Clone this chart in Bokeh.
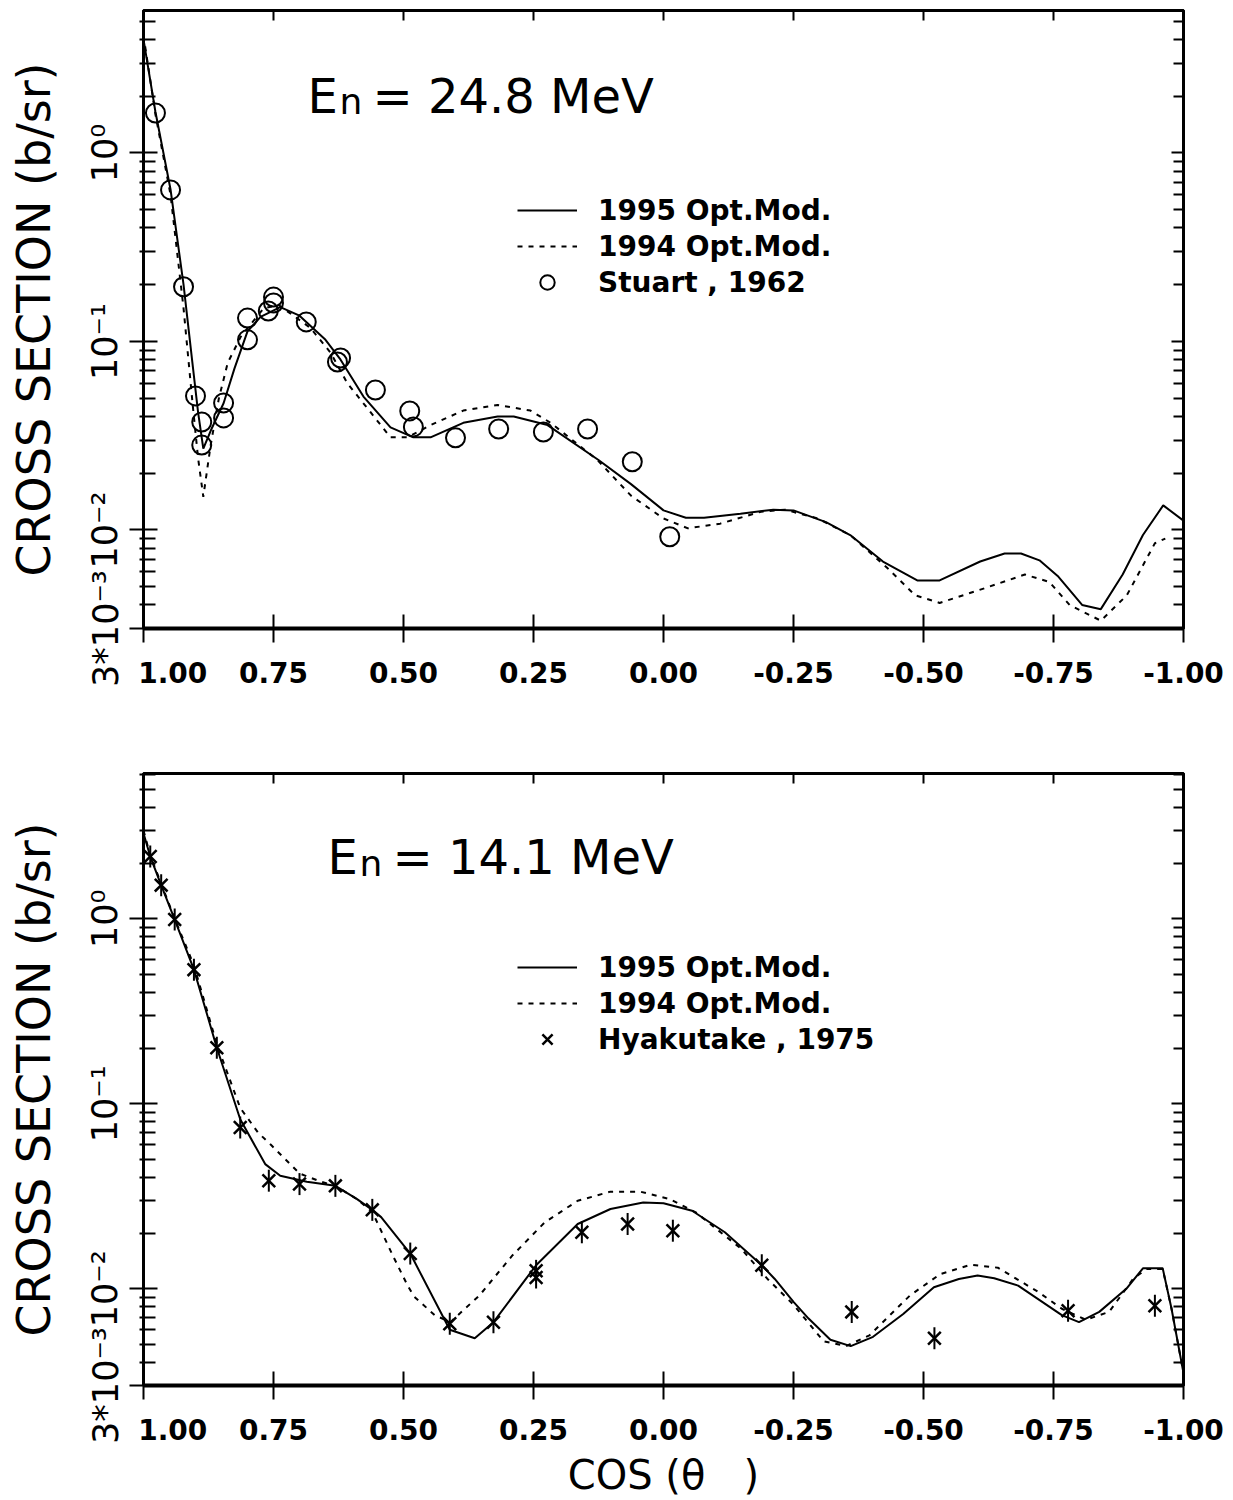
import math
from bokeh.plotting import figure
from bokeh.models import (Range1d, FixedTicker, LinearAxis, LogAxis, Legend,
                          LegendItem, Label, CustomJSTickFormatter)
from bokeh.layouts import column
from bokeh.embed import file_html
from bokeh.resources import INLINE

FONT = "DejaVu Sans"

# ---------------- data: top panel (En = 24.8 MeV) ----------------
TOP_C95 = [1.000, 0.977, 0.948, 0.923, 0.905, 0.895, 0.885, 0.870, 0.846, 0.825, 0.800, 0.775,
           0.737, 0.700, 0.650, 0.621, 0.577, 0.525, 0.481, 0.448, 0.385, 0.319, 0.288, 0.223,
           0.125, 0.0625, 0.000, -0.043, -0.078, -0.148, -0.211, -0.250, -0.3125, -0.359,
           -0.422, -0.488, -0.531, -0.609, -0.656, -0.6875, -0.723, -0.758, -0.805, -0.841,
           -0.883, -0.922, -0.961, -1.000]
TOP_V95 = [4.0, 1.65, 0.64, 0.20, 0.073, 0.042, 0.027, 0.034, 0.047, 0.072, 0.113, 0.135,
           0.152, 0.137, 0.102, 0.080, 0.051, 0.035, 0.031, 0.031, 0.037, 0.040, 0.040, 0.036,
           0.0235, 0.0175, 0.0127, 0.0116, 0.0116, 0.0122, 0.0128, 0.0127, 0.0110, 0.0094,
           0.0068, 0.0054, 0.0054, 0.0068, 0.0075, 0.0075, 0.0069, 0.0057, 0.0040, 0.0038,
           0.0058, 0.0094, 0.0135, 0.0112]

TOP_C94 = [1.000, 0.977, 0.948, 0.923, 0.905, 0.895, 0.885, 0.871, 0.855, 0.838, 0.813, 0.769,
           0.740, 0.679, 0.640, 0.608, 0.563, 0.525, 0.492, 0.448, 0.385, 0.319, 0.256, 0.217,
           0.127, 0.0625, 0.000, -0.047, -0.109, -0.1875, -0.234, -0.297, -0.359, -0.430,
           -0.484, -0.531, -0.617, -0.695, -0.742, -0.781, -0.841, -0.891, -0.945, -0.965]
TOP_V94 = [4.2, 1.6, 0.60, 0.15, 0.045, 0.024, 0.015, 0.028, 0.050, 0.077, 0.106, 0.150,
           0.156, 0.118, 0.087, 0.060, 0.042, 0.031, 0.031, 0.036, 0.043, 0.046, 0.043, 0.037,
           0.0235, 0.0152, 0.0115, 0.0102, 0.0108, 0.0125, 0.0128, 0.0115, 0.0094, 0.0063,
           0.0045, 0.0041, 0.0049, 0.0058, 0.0053, 0.0040, 0.0033, 0.0045, 0.0085, 0.0090]

STUART_C = [0.977, 0.948, 0.923, 0.900, 0.888, 0.888, 0.846, 0.846, 0.800, 0.800, 0.760, 0.750,
            0.750, 0.687, 0.627, 0.621, 0.554, 0.488, 0.481, 0.400, 0.317, 0.231, 0.146, 0.060,
            -0.012]
STUART_V = [1.63, 0.637, 0.195, 0.0514, 0.0374, 0.0282, 0.0472, 0.0393, 0.133, 0.102, 0.145,
            0.172, 0.160, 0.127, 0.0778, 0.0817, 0.0553, 0.0428, 0.0352, 0.0308, 0.0343, 0.0331,
            0.0343, 0.0230, 0.0092]

# ---------------- data: bottom panel (En = 14.1 MeV) ----------------
BOT_C95 = [1.000, 0.987, 0.966, 0.940, 0.903, 0.859, 0.814, 0.766, 0.737, 0.686, 0.631, 0.590,
           0.560, 0.543, 0.487, 0.411, 0.363, 0.327, 0.245, 0.165, 0.102, 0.039, 0.000, -0.055,
           -0.118, -0.189, -0.214, -0.250, -0.279, -0.321, -0.360, -0.403, -0.461, -0.520,
           -0.568, -0.604, -0.636, -0.682, -0.766, -0.799, -0.838, -0.890, -0.922, -0.960,
           -0.977, -1.000]
BOT_V95 = [2.9, 2.17, 1.52, 0.99, 0.531, 0.201, 0.0825, 0.0472, 0.0408, 0.0379, 0.0360, 0.0306,
           0.0267, 0.0244, 0.0155, 0.0060, 0.0054, 0.0066, 0.0134, 0.0224, 0.0270, 0.0293,
           0.0290, 0.0264, 0.0202, 0.0134, 0.0113, 0.0085, 0.0069, 0.0053, 0.0049, 0.0055,
           0.0073, 0.0102, 0.0113, 0.0118, 0.0114, 0.0104, 0.0072, 0.0066, 0.0075, 0.0100,
           0.0129, 0.0129, 0.0078, 0.0035]

BOT_C94 = [1.000, 0.987, 0.966, 0.940, 0.903, 0.859, 0.814, 0.780, 0.755, 0.700, 0.660, 0.631,
           0.590, 0.560, 0.520, 0.492, 0.480, 0.440, 0.410, 0.354, 0.291, 0.228, 0.165, 0.102,
           0.045, -0.011, -0.062, -0.150, -0.200, -0.250, -0.308, -0.351, -0.396, -0.474,
           -0.532, -0.591, -0.643, -0.721, -0.766, -0.812, -0.857, -0.903, -0.929, -0.960,
           -0.977, -1.000]
BOT_V94 = [3.0, 2.2, 1.55, 1.0, 0.56, 0.21, 0.095, 0.070, 0.060, 0.042, 0.038, 0.036,
           0.0306, 0.026, 0.015, 0.0104, 0.0091, 0.0072, 0.0066, 0.0092, 0.0151, 0.0229,
           0.0299, 0.0335, 0.0335, 0.0306, 0.0259, 0.0164, 0.0113, 0.0082, 0.0052, 0.0049,
           0.0056, 0.0092, 0.0120, 0.0135, 0.0130, 0.0096, 0.0078, 0.0068, 0.0075, 0.0113,
           0.0128, 0.0128, 0.0078, 0.0035]

HYAK_C = [0.987, 0.966, 0.940, 0.903, 0.859, 0.814, 0.759, 0.700, 0.631, 0.560, 0.487, 0.411,
          0.327, 0.245, 0.245, 0.157, 0.069, -0.018, -0.189, -0.362, -0.521, -0.778, -0.945]
HYAK_V = [2.17, 1.52, 0.99, 0.531, 0.201, 0.0744, 0.0384, 0.0368, 0.0360, 0.0267, 0.0155,
          0.00647, 0.0066, 0.0125, 0.0115, 0.0202, 0.0224, 0.0206, 0.0134, 0.0075, 0.0054,
          0.0076, 0.0081]

# ---------------- ticks ----------------
X_TICKS = [1.0, 0.75, 0.5, 0.25, 0.0, -0.25, -0.5, -0.75, -1.0]
X_TICK_LABELS = ["1.00", "0.75", "0.50", "0.25", "0.00", "-0.25", "-0.50", "-0.75", "-1.00"]
Y_TICKS = [0.003, 0.01, 0.1, 1.0]
Y_TICK_LABELS = ["3*10\u207b\u00b3", "10\u207b\u00b2", "10\u207b\u00b9", "10\u2070"]
Y_MINOR = [0.004, 0.005, 0.006, 0.007, 0.008, 0.009,
           0.02, 0.03, 0.04, 0.05, 0.06, 0.07, 0.08, 0.09,
           0.2, 0.3, 0.4, 0.5, 0.6, 0.7, 0.8, 0.9,
           2.0, 3.0, 4.0, 5.0, 6.0]

Y_LOW = 0.003
FRAME_L, FRAME_R = 143, 1183
NBSP = "\u00a0"


def to_data(px, py, top_px, bot_px, ymax):
    c = 1.0 - 2.0 * (px - FRAME_L) / (FRAME_R - FRAME_L)
    frac = (bot_px - py) / (bot_px - top_px)
    lv = math.log10(Y_LOW) + frac * (math.log10(ymax) - math.log10(Y_LOW))
    return c, 10 ** lv


def make_panel(height, b_top, b_bottom, ymax):
    p = figure(width=1233, height=height, x_range=Range1d(1.0, -1.0),
               y_range=Range1d(Y_LOW, ymax), y_axis_type="log",
               output_backend="svg", toolbar_location=None,
               min_border_left=FRAME_L, min_border_right=1233 - FRAME_R,
               min_border_top=b_top, min_border_bottom=b_bottom)
    p.grid.visible = False
    p.background_fill_color = "white"
    p.border_fill_color = "white"
    p.outline_line_color = "black"
    p.outline_line_width = 3

    xa = p.xaxis[0]
    xa.ticker = FixedTicker(ticks=X_TICKS, minor_ticks=[])
    labels = {t: s for t, s in zip(X_TICKS, X_TICK_LABELS)}
    # the first label sits to the right of its tick, clear of the corner
    labels[X_TICKS[0]] = NBSP * 6 + X_TICK_LABELS[0]
    xa.major_label_overrides = labels
    xa.axis_line_width = 4
    xa.major_tick_line_width = 2
    xa.major_tick_in = 14
    xa.major_tick_out = 14
    xa.major_label_standoff = 14
    xa.major_label_text_font = FONT
    xa.major_label_text_font_size = "28px"
    xa.major_label_text_font_style = "bold"
    xa.major_label_text_color = "black"

    ya = p.yaxis[0]
    ya.ticker = FixedTicker(ticks=Y_TICKS, minor_ticks=Y_MINOR)
    ya.major_label_overrides = {t: s for t, s in zip(Y_TICKS, Y_TICK_LABELS)}
    ya.axis_line_width = 3
    ya.major_tick_line_width = 2
    ya.minor_tick_line_width = 2
    ya.major_tick_in = 14
    ya.major_tick_out = 14
    ya.minor_tick_in = 12
    ya.minor_tick_out = 4
    ya.major_label_orientation = "vertical"
    ya.major_label_standoff = 4
    ya.major_label_text_font = FONT
    ya.major_label_text_font_size = "35px"
    ya.major_label_text_color = "black"
    ya.axis_label = "CROSS SECTION (b/sr)"
    ya.axis_label_text_font = FONT
    ya.axis_label_text_font_size = "46px"
    ya.axis_label_text_font_style = "normal"
    ya.axis_label_text_color = "black"
    ya.axis_label_standoff = 22

    blank = CustomJSTickFormatter(code="return ''")
    ra = LogAxis(ticker=FixedTicker(ticks=Y_TICKS, minor_ticks=Y_MINOR), formatter=blank,
                 axis_line_width=3, major_tick_line_width=2, minor_tick_line_width=2,
                 major_tick_in=12, major_tick_out=0, minor_tick_in=10, minor_tick_out=0,
                 major_label_standoff=0, major_label_text_font_size="0px")
    p.add_layout(ra, "right")
    ta = LinearAxis(ticker=FixedTicker(ticks=X_TICKS[1:-1], minor_ticks=[]), formatter=blank,
                    axis_line_width=3, major_tick_line_width=2,
                    major_tick_in=10, major_tick_out=0,
                    major_label_standoff=0, major_label_text_font_size="0px")
    p.add_layout(ta, "above")
    return p, xa


def add_title(p, energy, ex, baseline, top_px, bot_px, ymax):
    c, v = to_data(ex, baseline, top_px, bot_px, ymax)
    p.add_layout(Label(x=c, y=v, text="E", text_font=FONT, text_font_size="48px",
                       text_baseline="alphabetic", text_align="left", text_color="black"))
    c, v = to_data(ex + 32, baseline + 6, top_px, bot_px, ymax)
    p.add_layout(Label(x=c, y=v, text="n", text_font=FONT, text_font_size="36px",
                       text_baseline="alphabetic", text_align="left", text_color="black"))
    c, v = to_data(ex + 65, baseline, top_px, bot_px, ymax)
    p.add_layout(Label(x=c, y=v, text="= " + energy + " MeV", text_font=FONT,
                       text_font_size="48px", text_baseline="alphabetic", text_align="left",
                       text_color="black"))


def add_legend(p, items):
    lg = Legend(items=items, location=(374, 328), orientation="vertical",
                background_fill_alpha=0, border_line_color=None,
                label_text_font=FONT, label_text_font_size="28px",
                label_text_font_style="bold", label_text_color="black",
                glyph_width=60, glyph_height=36, label_height=36, spacing=0,
                padding=0, margin=0, label_standoff=21)
    p.add_layout(lg)


# ---------------- top panel ----------------
H1 = 720
TOP1, BOT1, YMAX1 = 10, 628, 5.7
p1, xa1 = make_panel(H1, TOP1, H1 - BOT1, YMAX1)
r1 = p1.line(TOP_C95, TOP_V95, line_color="black", line_width=2)
r2 = p1.line(TOP_C94, TOP_V94, line_color="black", line_width=2, line_dash="5 6")
r3 = p1.scatter(STUART_C, STUART_V, marker="circle", size=19, fill_color=None,
                line_color="black", line_width=2)
add_legend(p1, [LegendItem(label="1995 Opt.Mod.", renderers=[r1]),
                LegendItem(label="1994 Opt.Mod.", renderers=[r2]),
                LegendItem(label="Stuart , 1962", renderers=[r3])])
add_title(p1, "24.8", 307, 95, TOP1, BOT1, YMAX1)

# ---------------- bottom panel ----------------
H2 = 780
TOP2, BOT2, YMAX2 = 773, 1388, 6.1
p2, xa2 = make_panel(H2, TOP2 - H1, H1 + H2 - BOT2, YMAX2)
xa2.axis_label = "COS (\u03b8" + NBSP * 3 + ")"
xa2.axis_label_text_font = FONT
xa2.axis_label_text_font_size = "40px"
xa2.axis_label_text_font_style = "normal"
xa2.axis_label_text_color = "black"
xa2.axis_label_standoff = 2
s1 = p2.line(BOT_C95, BOT_V95, line_color="black", line_width=2)
s2 = p2.line(BOT_C94, BOT_V94, line_color="black", line_width=2, line_dash="5 6")
s3 = p2.scatter(HYAK_C, HYAK_V, marker="x", size=18, line_color="black", line_width=2.5)
p2.scatter(HYAK_C, HYAK_V, marker="dash", angle=math.pi / 2, size=22,
           line_color="black", line_width=2)
add_legend(p2, [LegendItem(label="1995 Opt.Mod.", renderers=[s1]),
                LegendItem(label="1994 Opt.Mod.", renderers=[s2]),
                LegendItem(label="Hyakutake , 1975", renderers=[s3])])
add_title(p2, "14.1", 327, 857, TOP2, BOT2, YMAX2)

layout = column(p1, p2, spacing=0)
open("out.html", "w").write(file_html(layout, INLINE))
